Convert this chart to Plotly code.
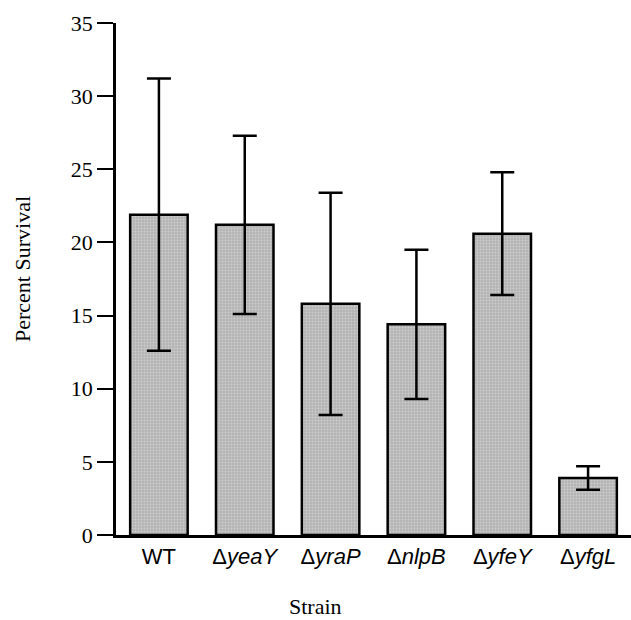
import plotly.graph_objects as go

strains = ["WT", "Δ<i>yeaY</i>", "Δ<i>yraP</i>", "Δ<i>nlpB</i>", "Δ<i>yfeY</i>", "Δ<i>yfgL</i>"]
survival = [21.9, 21.2, 15.8, 14.4, 20.6, 3.9]
error = [9.3, 6.1, 7.6, 5.1, 4.2, 0.8]
y_ticks = [0, 5, 10, 15, 20, 25, 30, 35]

serif = "Liberation Serif, Times New Roman"

fig = go.Figure()
fig.add_trace(go.Bar(
    x=list(range(len(strains))),
    y=survival,
    width=0.67,
    marker=dict(color="#bdbdbd", line=dict(color="black", width=2.5),
                pattern=dict(shape=".", fgcolor="#e6e6e6", bgcolor="#b4b4b4", size=3, solidity=0.3)),
    error_y=dict(type="data", array=error, visible=True, color="black", thickness=2.5, width=12),
    hoverinfo="skip",
))

fig.update_layout(
    width=631, height=620,
    margin=dict(l=116, r=0, t=23, b=85),
    plot_bgcolor="white", paper_bgcolor="white",
    showlegend=False,
    annotations=[
        dict(text="Strain", xref="paper", yref="paper", x=0.5, y=0,
             xshift=-58, yshift=-71, showarrow=False, xanchor="center", yanchor="middle",
             font=dict(family=serif, size=22, color="black")),
        dict(text="Percent Survival", xref="paper", yref="paper", x=0, y=0.5,
             xshift=-94, yshift=10, textangle=-90, showarrow=False,
             xanchor="center", yanchor="middle",
             font=dict(family=serif, size=22, color="black")),
    ],
)
fig.update_xaxes(
    range=[-0.5, 5.5],
    tickmode="array", tickvals=list(range(len(strains))), ticktext=strains,
    tickfont=dict(family="Liberation Sans, Arial", size=22, color="black"),
    showline=True, linecolor="black", linewidth=2.5,
    ticks="", showgrid=False, zeroline=False,
)
fig.update_yaxes(
    range=[0, 35],
    tickmode="array", tickvals=y_ticks,
    ticksuffix="\u2002",
    tickfont=dict(family=serif, size=22, color="black"),
    showline=True, linecolor="black", linewidth=2.5,
    ticks="outside", ticklen=16, tickwidth=2, tickcolor="black",
    showgrid=False, zeroline=False,
)

fig.write_html("out.html", config={"displayModeBar": False})

with open("out.html", "r", encoding="utf-8") as f:
    html = f.read()
html = html.replace("<head>", "<head><style>html,body{margin:0;padding:0;overflow:hidden;}</style>", 1)
with open("out.html", "w", encoding="utf-8") as f:
    f.write(html)
